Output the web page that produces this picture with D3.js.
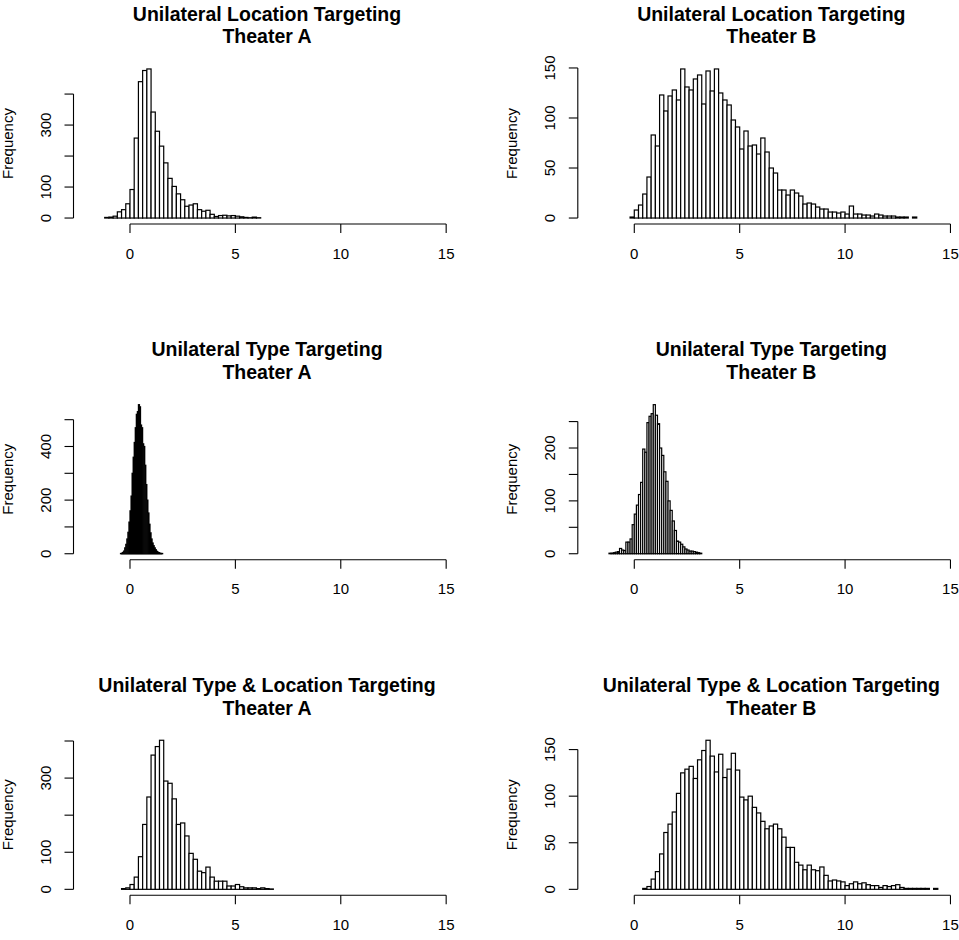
<!DOCTYPE html>
<html>
<head>
  <meta charset="utf-8">
  <title>Unilateral Targeting Histograms</title>
  <script src="https://cdnjs.cloudflare.com/ajax/libs/d3/7.8.5/d3.min.js"></script>
  <style>
    body { margin: 0; background: #fff; }
    svg { display: block; font-family: "Liberation Sans", Arial, Helvetica, sans-serif; }
    .bar { fill: #fff; stroke: #000; stroke-width: 1.2; }
    .axis-line { stroke: #000; stroke-width: 1.1; fill: none; }
    .title { font-weight: bold; font-size: 19.5px; text-anchor: middle; }
    .tick-label { font-size: 15px; text-anchor: middle; }
  </style>
</head>
<body>
  <div id="chart"></div>
  <script>
    // Panel titles (two lines each)
    const titlesLocA = ["Unilateral Location Targeting", "Theater A"];
    const titlesLocB = ["Unilateral Location Targeting", "Theater B"];
    const titlesTypeA = ["Unilateral Type Targeting", "Theater A"];
    const titlesTypeB = ["Unilateral Type Targeting", "Theater B"];
    const titlesBothA = ["Unilateral Type & Location Targeting", "Theater A"];
    const titlesBothB = ["Unilateral Type & Location Targeting", "Theater B"];

    // Histogram counts: first break, bin width, counts
    const locAStart = -1.2, locAWidth = 0.2;
    const locACounts = [2, 3, 6, 20, 27, 46, 92, 258, 440, 476, 481, 342, 280, 232, 178, 128, 102, 78, 59, 38, 42, 46, 27, 22, 25, 12, 5, 8, 9, 7, 8, 6, 4, 2, 1, 3, 1];

    const locBStart = -0.2, locBWidth = 0.2;
    const locBCounts = [1, 8, 13, 24, 41, 83, 72, 123, 107, 122, 128, 118, 149, 131, 128, 139, 143, 114, 147, 127, 149, 125, 118, 113, 98, 91, 69, 87, 72, 73, 64, 80, 66, 50, 45, 28, 28, 23, 28, 25, 22, 14, 15, 14, 11, 9, 9, 6, 6, 5, 6, 4, 12, 4, 4, 3, 3, 2, 4, 3, 2, 2, 2, 1, 1, 1, 0, 1];

    const typeAStart = -0.45, typeAWidth = 0.05;
    const typeACounts = [1, 2, 5, 10, 22, 35, 55, 80, 118, 160, 215, 300, 360, 415, 470, 520, 530, 556, 548, 480, 470, 410, 400, 330, 258, 200, 152, 110, 78, 55, 40, 30, 22, 15, 9, 6, 4, 2, 1, 1];

    const typeBStart = -1.2, typeBWidth = 0.1;
    const typeBCounts = [1, 1, 2, 3, 4, 10, 7, 6, 22, 22, 28, 55, 75, 92, 112, 135, 198, 192, 248, 260, 265, 282, 262, 246, 200, 186, 155, 137, 100, 82, 62, 44, 24, 22, 18, 13, 9, 7, 5, 5, 4, 3, 2, 1];

    const bothAStart = -0.4, bothAWidth = 0.2;
    const bothACounts = [2, 4, 13, 33, 88, 175, 249, 362, 385, 402, 292, 286, 244, 175, 179, 144, 97, 81, 49, 45, 60, 33, 22, 22, 22, 9, 9, 13, 7, 4, 4, 4, 2, 4, 2, 1];

    const bothBStart = 0.4, bothBWidth = 0.2;
    const bothBCounts = [1, 3, 11, 19, 38, 61, 70, 83, 103, 125, 129, 132, 119, 139, 149, 160, 143, 126, 145, 120, 129, 146, 128, 99, 96, 100, 88, 82, 73, 65, 68, 70, 65, 56, 45, 45, 29, 26, 21, 26, 21, 20, 24, 15, 9, 10, 9, 8, 4, 6, 8, 6, 7, 5, 4, 4, 2, 4, 3, 4, 5, 2, 1, 1, 1, 1, 1, 1, 0, 1];

    // Axis ticks
    const xTicks = [0, 5, 10, 15];
    const yTicksLocA = [0, 100, 200, 300, 400], yLabelsLocA = [0, 100, 300];
    const yTicksLocB = [0, 50, 100, 150], yLabelsLocB = [0, 50, 100, 150];
    const yTicksTypeA = [0, 100, 200, 300, 400, 500], yLabelsTypeA = [0, 200, 400];
    const yTicksTypeB = [0, 50, 100, 150, 200, 250], yLabelsTypeB = [0, 100, 200];
    const yTicksBothA = [0, 100, 200, 300, 400], yLabelsBothA = [0, 100, 300];
    const yTicksBothB = [0, 50, 100, 150], yLabelsBothB = [0, 50, 100, 150];

    const width = 959, height = 940;
    const plotW = 387, plotH = 161;
    const colLeft = [73.5, 577.8];
    const rowBottom = [224, 559.7, 895.3];
    const tickLen = 9;

    const panels = [
      { title: titlesLocA, start: locAStart, bw: locAWidth, counts: locACounts, yTicks: yTicksLocA, yLabels: yLabelsLocA, col: 0, row: 0 },
      { title: titlesLocB, start: locBStart, bw: locBWidth, counts: locBCounts, yTicks: yTicksLocB, yLabels: yLabelsLocB, col: 1, row: 0 },
      { title: titlesTypeA, start: typeAStart, bw: typeAWidth, counts: typeACounts, yTicks: yTicksTypeA, yLabels: yLabelsTypeA, col: 0, row: 1 },
      { title: titlesTypeB, start: typeBStart, bw: typeBWidth, counts: typeBCounts, yTicks: yTicksTypeB, yLabels: yLabelsTypeB, col: 1, row: 1 },
      { title: titlesBothA, start: bothAStart, bw: bothAWidth, counts: bothACounts, yTicks: yTicksBothA, yLabels: yLabelsBothA, col: 0, row: 2 },
      { title: titlesBothB, start: bothBStart, bw: bothBWidth, counts: bothBCounts, yTicks: yTicksBothB, yLabels: yLabelsBothB, col: 1, row: 2 }
    ];

    const svg = d3.select("#chart")
      .append("svg")
      .attr("width", width)
      .attr("height", height);

    svg.append("rect").attr("width", width).attr("height", height).attr("fill", "#fff");

    panels.forEach(p => {
      const left = colLeft[p.col];
      const bottom = rowBottom[p.row];
      const top = bottom - plotH;

      // xlim c(-2, 15) with R's 4% extension
      const x = d3.scaleLinear().domain([-2 - 0.68, 15 + 0.68]).range([left, left + plotW]);
      const maxCount = d3.max(p.counts);
      const y = d3.scaleLinear().domain([-0.04 * maxCount, 1.04 * maxCount]).range([bottom, top]);

      const g = svg.append("g");

      // Bars
      g.selectAll("rect.bar")
        .data(p.counts)
        .enter().append("rect")
        .attr("class", "bar")
        .attr("x", (d, i) => x(p.start + i * p.bw))
        .attr("width", (d, i) => x(p.start + (i + 1) * p.bw) - x(p.start + i * p.bw))
        .attr("y", d => y(d))
        .attr("height", d => y(0) - y(d));

      // x axis
      g.append("line").attr("class", "axis-line")
        .attr("x1", x(xTicks[0])).attr("x2", x(xTicks[xTicks.length - 1]))
        .attr("y1", bottom).attr("y2", bottom);
      g.selectAll("line.xt").data(xTicks).enter().append("line")
        .attr("class", "axis-line xt")
        .attr("x1", d => x(d)).attr("x2", d => x(d))
        .attr("y1", bottom).attr("y2", bottom + tickLen);
      g.selectAll("text.xl").data(xTicks).enter().append("text")
        .attr("class", "tick-label xl")
        .attr("x", d => x(d))
        .attr("y", bottom + 34.7)
        .text(d => d);

      // y axis
      g.append("line").attr("class", "axis-line")
        .attr("x1", left).attr("x2", left)
        .attr("y1", y(p.yTicks[0])).attr("y2", y(p.yTicks[p.yTicks.length - 1]));
      g.selectAll("line.yt").data(p.yTicks).enter().append("line")
        .attr("class", "axis-line yt")
        .attr("x1", left - tickLen).attr("x2", left)
        .attr("y1", d => y(d)).attr("y2", d => y(d));
      g.selectAll("text.yl").data(p.yLabels).enter().append("text")
        .attr("class", "tick-label yl")
        .attr("transform", d => `translate(${left - 22.9},${y(d)}) rotate(-90)`)
        .text(d => d);

      // y label
      g.append("text")
        .attr("class", "tick-label")
        .attr("transform", `translate(${left - 60.5},${bottom - plotH / 2}) rotate(-90)`)
        .text("Frequency");

      // title
      const cx = left + plotW / 2;
      g.append("text").attr("class", "title")
        .attr("x", cx).attr("y", top - 42.5)
        .text(p.title[0]);
      g.append("text").attr("class", "title")
        .attr("x", cx).attr("y", top - 19.8)
        .text(p.title[1]);
    });
  </script>
</body>
</html>
